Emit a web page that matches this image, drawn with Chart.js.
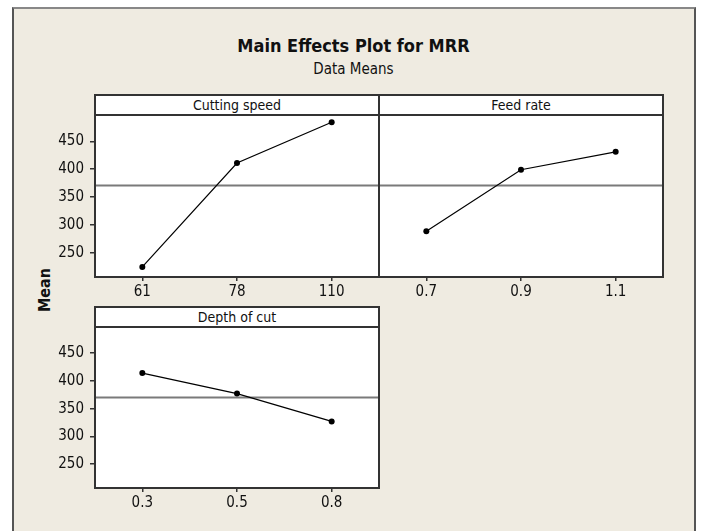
<!DOCTYPE html>
<html>
<head>
<meta charset="utf-8">
<script src="https://cdn.jsdelivr.net/npm/chart.js@4.4.1/dist/chart.umd.min.js"></script>
<style>
    body { margin: 0; width: 701px; height: 531px; overflow: hidden; position: relative; background: #fff;
           font-family: 'DejaVu Sans Condensed', 'Liberation Sans Narrow', 'DejaVu Sans', sans-serif; color: #111; }
    #frame { position: absolute; left: 12px; top: 7px; width: 680px; height: 540px; background: #efebe1;
             border: 2px solid #555; border-top-color: #888; }
    .txt { position: absolute; left: 3px; width: 701px; text-align: center; line-height: 1; white-space: nowrap; }
    #title { top: 37px; font-size: 18px; font-weight: bold; }
    #subtitle { top: 62px; font-size: 15px; }
    .head { position: absolute; box-sizing: border-box; height: 22px; width: 286px; background: #fff;
            border: 2px solid #333; text-align: center; font-size: 14px; line-height: 18px; }
    #meanLabel { position: absolute; left: 44px; top: 290px; transform: translate(-50%, -50%) rotate(-90deg);
                 font-size: 16px; font-weight: bold; white-space: nowrap; }
    canvas { position: absolute; }
</style>
</head>
<body>
<div id="frame"></div>
<div id="title" class="txt">Main Effects Plot for MRR</div>
<div id="subtitle" class="txt">Data Means</div>
<div id="meanLabel">Mean</div>
<div id="panels"></div>
<script>
// Daten
const factorNames = ['Cutting speed', 'Feed rate', 'Depth of cut'];
const cuttingSpeedLevels = ['61', '78', '110'];
const cuttingSpeedMeans = [225, 411, 484];
const feedRateLevels = ['0.7', '0.9', '1.1'];
const feedRateMeans = [289, 399, 431];
const depthLevels = ['0.3', '0.5', '0.8'];
const depthMeans = [414, 377, 327];
const grandMean = 371;
const yTicks = [250, 300, 350, 400, 450];
const yRange = [207, 497];

const FONT = "'DejaVu Sans Condensed', 'Liberation Sans Narrow', 'DejaVu Sans', sans-serif";

// Rahmen, weißer Hintergrund und Mittelwert-Linie je Feld
const panelFrame = {
    id: 'panelFrame',
    beforeDraw(chart) {
        const { ctx, chartArea: a } = chart;
        ctx.save();
        ctx.fillStyle = '#fff';
        ctx.fillRect(a.left, a.top, a.width, a.height);
        ctx.restore();
    },
    beforeDatasetsDraw(chart) {
        const { ctx, chartArea: a, scales: { y } } = chart;
        const yy = Math.round(y.getPixelForValue(grandMean)) + 0.5;
        ctx.save();
        ctx.strokeStyle = '#7a7a7a';
        ctx.lineWidth = 2;
        ctx.beginPath();
        ctx.moveTo(a.left, yy);
        ctx.lineTo(a.right, yy);
        ctx.stroke();
        ctx.restore();
    },
    afterDraw(chart) {
        const { ctx, chartArea: a } = chart;
        ctx.save();
        ctx.strokeStyle = '#333';
        ctx.lineWidth = 2;
        ctx.strokeRect(a.left, a.top, a.width, a.height);
        ctx.restore();
    }
};

// Feste Achsengröße ohne zusätzliche Label-Abstände
function fixSize(prop, size) {
    return s => {
        s[prop] = size;
        s.paddingTop = 0;
        s.paddingBottom = 0;
        s.paddingLeft = 0;
        s.paddingRight = 0;
    };
}

// Erstellt ein Feld mit Kopfzeile und Chart
function makePanel(name, labels, means, box, showY) {
    const wrap = document.getElementById('panels');

    const head = document.createElement('div');
    head.className = 'head';
    head.textContent = name;
    head.style.left = (box.left - 1) + 'px';
    head.style.top = (box.top - 21) + 'px';
    wrap.appendChild(head);

    const canvas = document.createElement('canvas');
    canvas.width = box.width + 65;
    canvas.height = box.height + 45;
    canvas.style.left = (box.left - 55) + 'px';
    canvas.style.top = (box.top - 10) + 'px';
    wrap.appendChild(canvas);

    new Chart(canvas, {
        type: 'line',
        data: {
            labels: labels,
            datasets: [{
                data: means,
                borderColor: '#000',
                borderWidth: 1.2,
                pointRadius: 3,
                pointBackgroundColor: '#000',
                pointBorderWidth: 0,
                tension: 0
            }]
        },
        options: {
            responsive: false,
            animation: false,
            layout: { padding: { top: 10, right: 10, left: 0, bottom: 0 } },
            plugins: { legend: { display: false }, tooltip: { enabled: false } },
            scales: {
                x: {
                    offset: true,
                    grid: { offset: false, drawOnChartArea: false, tickLength: 4, color: '#333', lineWidth: 1.5 },
                    border: { display: false },
                    ticks: { color: '#111', font: { size: 15, family: FONT }, padding: 2, maxRotation: 0 },
                    afterFit: fixSize('height', 35)
                },
                y: {
                    min: yRange[0],
                    max: yRange[1],
                    afterBuildTicks: s => { s.ticks = yTicks.map(v => ({ value: v })); },
                    grid: { display: showY, drawOnChartArea: false, tickLength: 5, color: '#333', lineWidth: 1.5 },
                    border: { display: false },
                    ticks: { display: showY, color: '#111', font: { size: 15, family: FONT }, padding: 6 },
                    afterFit: fixSize('width', 55)
                }
            }
        },
        plugins: [panelFrame]
    });
}

makePanel(factorNames[0], cuttingSpeedLevels, cuttingSpeedMeans, { left: 95, top: 115, width: 284, height: 162 }, true);
makePanel(factorNames[1], feedRateLevels, feedRateMeans, { left: 379, top: 115, width: 284, height: 162 }, false);
makePanel(factorNames[2], depthLevels, depthMeans, { left: 95, top: 327, width: 284, height: 161 }, true);
</script>
</body>
</html>
